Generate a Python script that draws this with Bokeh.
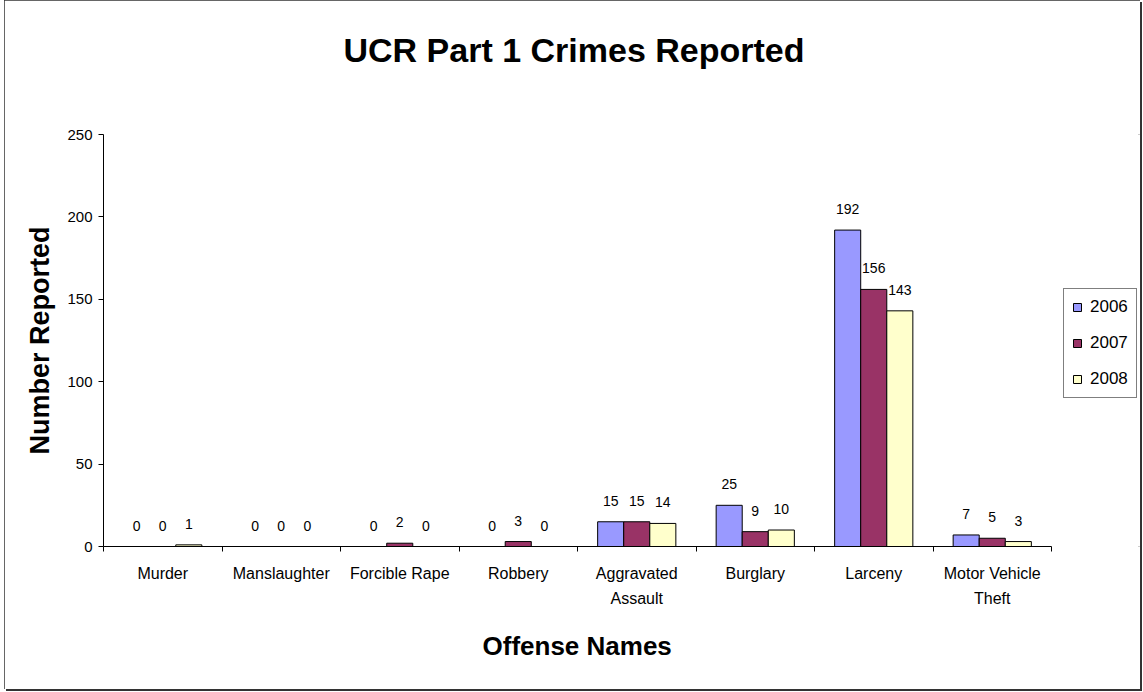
from bokeh.plotting import figure
from bokeh.models import (Range1d, LinearAxis, FixedTicker, Title,
                          ColumnDataSource, Legend, LegendItem)
from bokeh.transform import dodge
from bokeh.embed import file_html
from bokeh.resources import INLINE
from bokeh.core.properties import value

categories = ["Murder", "Manslaughter", "Forcible Rape", "Robbery",
              "Aggravated\nAssault", "Burglary", "Larceny", "Motor Vehicle\nTheft"]
years = ["2006", "2007", "2008"]
v2006 = [0, 0, 0, 0, 15, 25, 192, 7]
v2007 = [0, 0, 2, 3, 15, 9, 156, 5]
v2008 = [1, 0, 0, 0, 14, 10, 143, 3]
y_ticks = [0, 50, 100, 150, 200, 250]
colors = ["#9999FF", "#993366", "#FFFFCC"]

FONT = "Liberation Sans"

# layout (pixels)
SHIFT = 4                 # figure is shifted right by this margin
W, H = 1136, 689
LEFT, TOP, BOTTOM, RIGHT = 103 - SHIFT, 134, 143, 0
CAT_AREA_W = 948          # width occupied by the category axis
FRAME_W = W - LEFT - RIGHT

n = len(categories)
centers = [i + 0.5 for i in range(n)]
data = dict(xc=centers, v2006=v2006, v2007=v2007, v2008=v2008)
for y in years:
    data["t" + y] = [str(v) for v in data["v" + y]]
src = ColumnDataSource(data)

# frame extends to the right edge so the legend can sit beside the axis
x_end = n * FRAME_W / CAT_AREA_W

p = figure(width=W, height=H,
           x_range=Range1d(0, x_end),
           y_range=Range1d(0, 250),
           output_backend="svg", toolbar_location=None,
           x_axis_location=None,
           min_border_left=LEFT, min_border_right=RIGHT,
           min_border_top=TOP, min_border_bottom=BOTTOM)
p.outline_line_color = None
p.grid.visible = False
p.background_fill_color = "white"
p.border_fill_color = "white"
p.styles = {"margin-left": f"{SHIFT}px",
            "outline": "2px solid #333", "outline-offset": "-2px",
            "box-shadow": "2px 2px 0 0 #333"}

# spacer between frame and title (closest to frame)
p.add_layout(Title(text=" ", text_font_size="10px", standoff=53), "above")

# title (outermost)
p.title.text = "UCR Part 1 Crimes Reported"
p.title.text_font = FONT
p.title.text_font_size = "34px"
p.title.text_font_style = "bold"
p.title.text_color = "black"
p.title.align = "left"
p.title.offset = 240
p.title.standoff = 0

# y axis
ya = p.yaxis[0]
ya.ticker = FixedTicker(ticks=y_ticks)
ya.minor_tick_line_color = None
ya.major_tick_in = 0
ya.major_tick_out = 5
ya.major_label_standoff = 6
ya.major_label_text_font = FONT
ya.major_label_text_font_size = "15px"
ya.major_label_text_color = "black"
ya.axis_line_color = "black"
ya.major_tick_line_color = "black"
ya.axis_label = "Number Reported"
ya.axis_label_text_font = FONT
ya.axis_label_text_font_size = "27px"
ya.axis_label_text_font_style = "bold"
ya.axis_label_text_color = "black"
ya.axis_label_standoff = 9

# boundary ticks between categories
tick_axis = LinearAxis(ticker=FixedTicker(ticks=list(range(n + 1))),
                       bounds=(0, n),
                       major_tick_in=0, major_tick_out=5,
                       minor_tick_line_color=None,
                       axis_line_color="black", major_tick_line_color="black",
                       major_label_text_font_size="1px",
                       major_label_text_color=None,
                       major_label_standoff=0)
p.add_layout(tick_axis, "below")

cat_axis = LinearAxis(ticker=FixedTicker(ticks=centers),
                      bounds=(0, n),
                      major_label_overrides={c: name for c, name in zip(centers, categories)},
                      major_tick_line_color=None, minor_tick_line_color=None,
                      axis_line_color=None,
                      major_label_text_font=FONT,
                      major_label_text_font_size="16px",
                      major_label_text_line_height=1.5,
                      major_label_text_color="black",
                      major_label_standoff=7)
p.add_layout(cat_axis, "below")

# x axis title, centred under the categories
x_title = Title(text="Offense Names", text_font=FONT, text_font_size="26px",
                text_font_style="bold", text_color="black",
                align="left", offset=379, vertical_align="top", standoff=40)
p.add_layout(x_title, "below")

offsets = [-0.22, 0.0, 0.22]
items = []
for y, off, c in zip(years, offsets, colors):
    r = p.vbar(x=dodge("xc", off), top="v" + y, width=0.22,
               source=src, fill_color=c, line_color="black", line_width=1)
    p.text(x=dodge("xc", off), y="v" + y, text="t" + y,
           source=src, text_align="center", text_baseline="alphabetic",
           y_offset=-21, text_font=value(FONT), text_font_size="14px",
           text_color="black")
    items.append(LegendItem(label=y, renderers=[r]))

legend = Legend(items=items, location=(960, 148),
                label_text_font=FONT, label_text_font_size="17px",
                label_text_color="black", label_height=20,
                glyph_width=10, glyph_height=10, label_standoff=8,
                spacing=16, padding=8, margin=0,
                border_line_color="black", border_line_width=1,
                background_fill_alpha=1)
p.add_layout(legend)

open("out.html", "w").write(file_html(p, INLINE))
